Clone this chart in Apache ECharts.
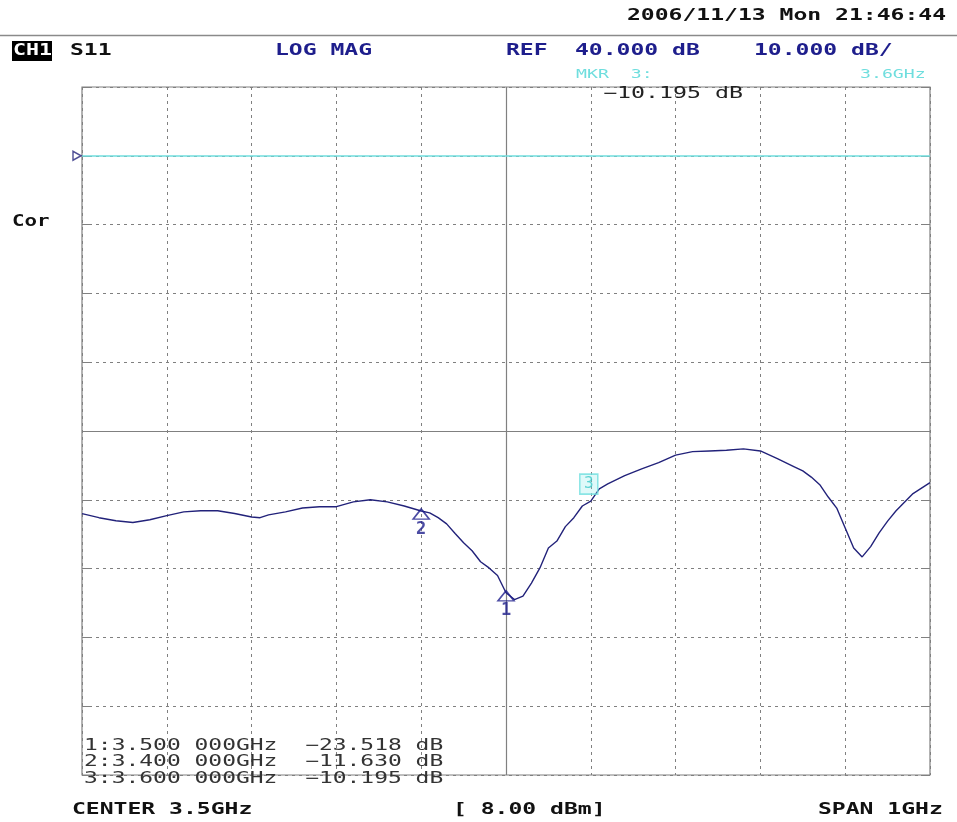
<!DOCTYPE html>
<html>
<head>
<meta charset="utf-8">
<script src="https://cdn.jsdelivr.net/npm/echarts@6/dist/echarts.min.js"></script>
<style>
  html, body { margin: 0; padding: 0; background: #fff; }
  #main { width: 957px; height: 822px; }
</style>
</head>
<body>
<div id="main"></div>
<script>
// S11 sweep, 3.0 - 4.0 GHz
var freqGHz = [
  3.00, 3.02, 3.04, 3.06, 3.08, 3.10, 3.12, 3.14, 3.16, 3.18,
  3.20, 3.21, 3.22, 3.24, 3.26, 3.28, 3.30, 3.32, 3.34, 3.36,
  3.38, 3.40, 3.41, 3.42, 3.43, 3.44, 3.45, 3.46, 3.47, 3.48,
  3.49, 3.50, 3.51, 3.52, 3.53, 3.54, 3.55, 3.56, 3.57, 3.58,
  3.59, 3.60, 3.61, 3.62, 3.64, 3.66, 3.68, 3.70, 3.72, 3.74,
  3.76, 3.78, 3.80, 3.82, 3.84, 3.85, 3.86, 3.87, 3.88, 3.89,
  3.90, 3.91, 3.92, 3.93, 3.94, 3.95, 3.96, 3.98, 4.00
];
var s11dB = [
  -12.0, -12.6, -13.05, -13.3, -12.9, -12.3, -11.75, -11.6, -11.6, -12.0,
  -12.5, -12.6, -12.2, -11.75, -11.2, -11.0, -11.0, -10.3, -10.0, -10.3,
  -10.9, -11.63, -11.9, -12.6, -13.5, -14.9, -16.25, -17.4, -19.0, -19.9,
  -21.0, -23.518, -24.5, -24.0, -22.1, -19.9, -17.0, -16.0, -13.9, -12.6,
  -10.9, -10.195, -8.4, -7.7, -6.5, -5.5, -4.6, -3.5, -3.0, -2.9,
  -2.8, -2.6, -2.9, -4.0, -5.2, -5.8, -6.7, -7.8, -9.6, -11.2,
  -14.1, -17.0, -18.3, -16.8, -14.8, -13.1, -11.6, -9.1, -7.5
];

// markers
var markerIds = ['1', '2', '3'];
var markerFreq = [3.5, 3.4, 3.6];
var markerVal = [-23.518, -11.630, -10.195];

// scale settings
var refLevel = 40;
var dbPerDiv = 10;
var startGHz = 3.0;
var stopGHz = 4.0;

var navy = '#22227a';
var blueText = '#1e1e8c';
var cyan = '#6fdede';
var gridGray = '#808080';
var mono = '"DejaVu Sans Mono", monospace';

var data = freqGHz.map(function (f, i) { return [f, s11dB[i]]; });

function txt(x, y, s, opt) {
  opt = opt || {};
  return {
    type: 'text', x: x, y: y, scaleX: opt.sx || 1.44, z: 10,
    style: {
      text: s,
      font: (opt.bold === false ? '' : 'bold ') + (opt.size || 16) + 'px ' + mono,
      fill: opt.color || '#111',
      verticalAlign: 'middle'
    }
  };
}

function fmtFreq(f) {
  return f.toFixed(3) + ' 000GHz';
}
function fmtDb(v) {
  var s = v.toFixed(3);
  while (s.length < 7) s = ' ' + s;
  return s.replace('-', '\u2212') + ' dB';
}

var tableLines = markerIds.map(function (id, i) {
  return id + ':' + fmtFreq(markerFreq[i]) + '  ' + fmtDb(markerVal[i]);
});

var graphics = [
  { type: 'line', shape: { x1: 0, y1: 35.5, x2: 957, y2: 35.5 }, style: { stroke: '#8a8a8a', lineWidth: 1.5 } },
  txt(627, 16, '2006/11/13 Mon 21:46:44'),
  { type: 'rect', shape: { x: 12, y: 41, width: 40, height: 20 }, style: { fill: '#000' } },
  txt(13, 51, 'CH1', { sx: 1.35, color: '#fff' }),
  txt(70, 51, 'S11'),
  txt(275, 51, 'LOG MAG', { color: blueText }),
  txt(506, 51, 'REF', { color: blueText }),
  txt(575, 51, refLevel.toFixed(3) + ' dB', { color: blueText }),
  txt(754, 51, dbPerDiv.toFixed(3) + ' dB/', { color: blueText }),
  txt(576, 75, 'MKR  3:', { bold: false, size: 13, sx: 1.4, color: cyan }),
  txt(860, 75, markerFreq[2].toFixed(1) + 'GHz', { bold: false, size: 13, sx: 1.4, color: cyan }),
  txt(603, 94, fmtDb(markerVal[2]).replace(/^ +/, ''), { bold: false, size: 15, sx: 1.55, color: '#222' }),
  txt(12, 222, 'Cor', { sx: 1.3 }),
  txt(72, 810, 'CENTER ' + ((startGHz + stopGHz) / 2) + 'GHz'),
  txt(453, 810, '[ 8.00 dBm]'),
  txt(818, 810, 'SPAN ' + (stopGHz - startGHz) + 'GHz')
];
tableLines.forEach(function (line, i) {
  graphics.push(txt(84, 746 + i * 16.5, line, { bold: false, size: 15, sx: 1.53, color: '#333' }));
});

var chart = echarts.init(document.getElementById('main'));
var option = {
  backgroundColor: '#fff',
  animation: false,
  grid: {
    left: 82, right: 27, top: 87, bottom: 47,
    show: true, borderColor: gridGray, borderWidth: 1.2, backgroundColor: 'transparent'
  },
  xAxis: {
    type: 'value', min: startGHz, max: stopGHz, interval: 0.1,
    axisLine: { show: false }, axisTick: { show: false }, axisLabel: { show: false },
    splitLine: { show: true, lineStyle: { color: gridGray, type: [3, 4], width: 1 } }
  },
  yAxis: [{
    type: 'value', min: refLevel - 9 * dbPerDiv, max: refLevel + dbPerDiv, interval: dbPerDiv,
    axisLine: { show: false }, axisLabel: { show: false },
    axisTick: { show: true, inside: true, length: 9, lineStyle: { color: gridGray } },
    splitLine: { show: true, lineStyle: { color: gridGray, type: [3, 4], width: 1 } }
  }, {
    type: 'value', position: 'right', min: refLevel - 9 * dbPerDiv, max: refLevel + dbPerDiv, interval: dbPerDiv,
    axisLine: { show: false }, axisLabel: { show: false },
    axisTick: { show: true, inside: true, length: 9, lineStyle: { color: gridGray } },
    splitLine: { show: false }
  }],
  graphic: graphics,
  series: [{
    name: 'S11',
    type: 'line',
    data: data,
    showSymbol: false,
    lineStyle: { color: navy, width: 1.4 },
    z: 5,
    markLine: {
      silent: true,
      symbol: 'none',
      label: { show: false },
      data: [
        { xAxis: (startGHz + stopGHz) / 2, lineStyle: { color: gridGray, type: 'solid', width: 1.2 } },
        { yAxis: 0, lineStyle: { color: gridGray, type: 'solid', width: 1.2 } },
        { yAxis: refLevel, lineStyle: { color: cyan, type: 'solid', width: 1.5 } }
      ],
      z: 3
    }
  }, {
    name: 'ref',
    type: 'scatter',
    data: [[startGHz, refLevel]],
    symbol: 'triangle',
    symbolSize: [9, 8],
    symbolRotate: -90,
    symbolOffset: [-5, 0],
    clip: false,
    itemStyle: { color: 'rgba(0,0,0,0)', borderColor: navy, borderWidth: 1.5 },
    z: 6
  }, {
    name: 'markers',
    type: 'scatter',
    data: [0, 1].map(function (i) { return { value: [markerFreq[i], markerVal[i]], name: markerIds[i] }; }),
    symbol: 'triangle',
    symbolSize: [16, 10],
    symbolOffset: [0, 3],
    clip: false,
    itemStyle: { color: 'rgba(0,0,0,0)', borderColor: blueText, borderWidth: 1.6 },
    label: {
      show: true, position: 'bottom', distance: 1,
      formatter: '{b}', color: blueText, fontFamily: mono, fontWeight: 'bold', fontSize: 17
    },
    z: 7
  }, {
    name: 'active marker',
    type: 'scatter',
    data: [{ value: [markerFreq[2], markerVal[2]], name: markerIds[2] }],
    symbol: 'rect',
    symbolSize: [18, 20],
    symbolOffset: [-2, -17],
    clip: false,
    itemStyle: { color: 'rgba(140,235,235,0.35)', borderColor: cyan, borderWidth: 1.6 },
    label: {
      show: true, position: 'inside',
      formatter: '{b}', color: '#3cc8c8', fontFamily: mono, fontSize: 16
    },
    z: 7
  }]
};
chart.setOption(option);
</script>
</body>
</html>
